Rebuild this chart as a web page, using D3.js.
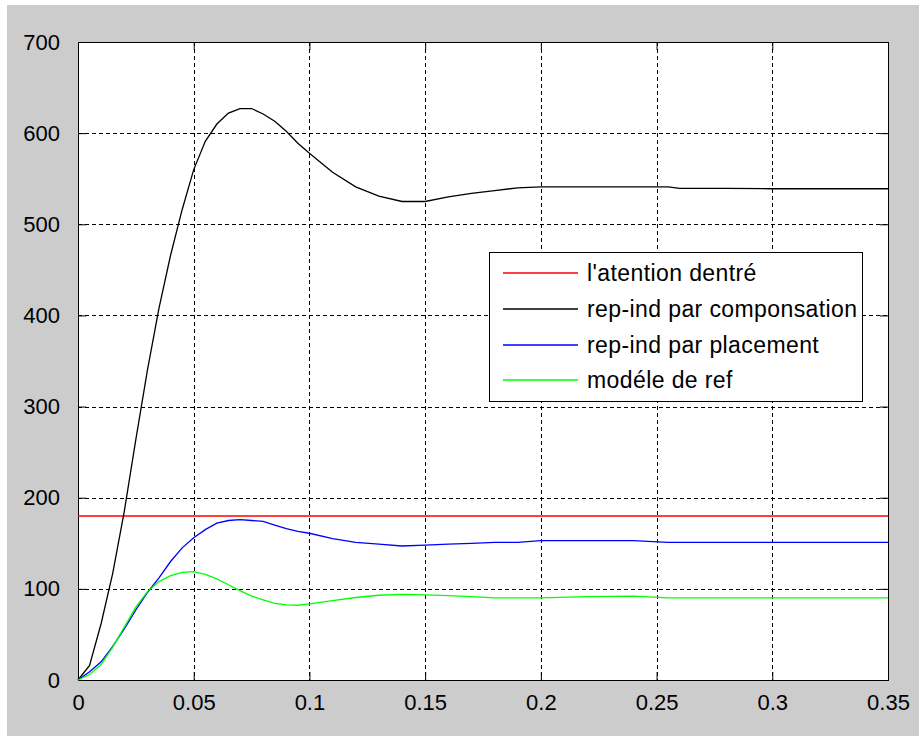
<!DOCTYPE html>
<html>
<head>
<meta charset="utf-8">
<script src="https://cdn.jsdelivr.net/npm/d3@7"></script>
<style>
  body { margin: 0; background: #ffffff; }
  text { font-family: "Liberation Sans", Arial, sans-serif; fill: #000; }
</style>
</head>
<body>
<script>
// sizes
const w = 919;
const h = 736;
const padL = 78, padR = 888, padT = 42, padB = 680;

// data
const time = [0, 0.005, 0.01, 0.015, 0.02, 0.025, 0.03, 0.035, 0.04, 0.045,
              0.05, 0.055, 0.06, 0.065, 0.07, 0.075, 0.08, 0.085, 0.09, 0.095,
              0.1, 0.11, 0.12, 0.13, 0.14, 0.15, 0.16, 0.17, 0.18, 0.19,
              0.2, 0.22, 0.24, 0.255, 0.26, 0.28, 0.3, 0.32, 0.35];
const consigne = [180, 180];
const consigneTime = [0, 0.35];
const compensation = [0, 16, 62, 117, 185, 264, 340, 408, 466, 516,
                      560, 591, 610, 622, 627, 627, 621, 613, 602, 589,
                      578, 557, 541, 531, 525, 525, 530, 534, 537, 540,
                      541, 541, 541, 541, 539.5, 539.5, 539, 539, 539];
const placement = [0, 9, 20, 37, 56, 77, 96, 112, 130, 145,
                   156, 165, 172, 175, 176, 175, 174, 170, 166, 163,
                   161, 155, 151, 149, 147, 148, 149, 150, 151, 151,
                   153, 153, 153, 151, 151, 151, 151, 151, 151];
const reference = [0, 6, 17, 36, 58, 80, 97, 108, 114.5, 118,
                   119, 116, 111, 104.5, 98, 92, 88, 84, 82.5, 82,
                   83.5, 87, 90.5, 93, 94, 93.5, 92.5, 91.5, 90, 90,
                   90, 91.5, 92, 90, 90, 90, 90, 90, 90];
const xTicks = [0, 0.05, 0.1, 0.15, 0.2, 0.25, 0.3, 0.35];
const yTicks = [0, 100, 200, 300, 400, 500, 600, 700];
const names = ["l'atention dentré", "rep-ind par componsation", "rep-ind par placement", "modéle de ref"];
const colors = ["#ff0000", "#000000", "#0000ff", "#00ff00"];

const svg = d3.select("body")
              .append("svg")
              .attr("width", w)
              .attr("height", h);

// grey figure background
svg.append("rect")
   .attr("x", 7).attr("y", 5)
   .attr("width", w - 7).attr("height", h - 5)
   .attr("fill", "#cccccc");

const xScale = d3.scaleLinear().domain([0, 0.35]).range([padL, padR]);
const yScale = d3.scaleLinear().domain([0, 700]).range([padB, padT]);

svg.append("rect")
   .attr("x", padL).attr("y", padT)
   .attr("width", padR - padL).attr("height", padB - padT)
   .attr("fill", "#fff");

// grid
svg.selectAll(".vgrid")
   .data(xTicks.slice(1))
   .enter().append("line")
   .attr("x1", d => Math.round(xScale(d)) + 0.5).attr("x2", d => Math.round(xScale(d)) + 0.5)
   .attr("y1", padT).attr("y2", padB)
   .attr("stroke", "#000").attr("stroke-dasharray", "4,3");
svg.selectAll(".hgrid")
   .data(yTicks.slice(1))
   .enter().append("line")
   .attr("y1", d => Math.round(yScale(d)) + 0.5).attr("y2", d => Math.round(yScale(d)) + 0.5)
   .attr("x1", padL).attr("x2", padR)
   .attr("stroke", "#000").attr("stroke-dasharray", "4,3");

// axes with inward ticks, all four sides
const xAxis = d3.axisBottom(xScale).tickValues(xTicks).tickSizeInner(-8).tickSizeOuter(0).tickFormat(d3.format("")).tickPadding(14);
const yAxis = d3.axisLeft(yScale).tickValues(yTicks).tickSizeInner(-8).tickSizeOuter(0).tickFormat(d3.format("")).tickPadding(18);

svg.append("g").attr("transform", "translate(0," + padB + ")").call(xAxis);
svg.append("g").attr("transform", "translate(" + padL + ",0)").call(yAxis);
svg.append("g").attr("transform", "translate(0," + padT + ")")
   .call(d3.axisTop(xScale).tickValues(xTicks).tickSizeInner(-8).tickSizeOuter(0).tickFormat(""));
svg.append("g").attr("transform", "translate(" + padR + ",0)")
   .call(d3.axisRight(yScale).tickValues(yTicks).tickSizeInner(-8).tickSizeOuter(0).tickFormat(""));

svg.selectAll(".domain").remove();
svg.selectAll(".tick line").attr("stroke", "#000");
svg.selectAll(".tick text").style("font-size", "22px").attr("fill", "#000");

svg.append("rect")
   .attr("x", padL + 0.5).attr("y", padT + 0.5)
   .attr("width", padR - padL).attr("height", padB - padT)
   .attr("fill", "none").attr("stroke", "#000");

// curves
const line = d3.line()
               .x(d => xScale(d[0]))
               .y(d => yScale(d[1]));

const series = [
  consigneTime.map((t, i) => [t, consigne[i]]),
  time.map((t, i) => [t, compensation[i]]),
  time.map((t, i) => [t, placement[i]]),
  time.map((t, i) => [t, reference[i]])
];
series.forEach(function(s, k){
  svg.append("path")
     .attr("d", line(s))
     .attr("fill", "none")
     .attr("stroke", colors[k])
     .attr("stroke-width", k == 0 ? 1.6 : 1.3);
});

// legend
const lg = svg.append("g");
lg.append("rect")
  .attr("x", 489.5).attr("y", 252.5)
  .attr("width", 373).attr("height", 149)
  .attr("fill", "#fff").attr("stroke", "#000");
const rowsY = [273, 309, 345, 380];
names.forEach(function(n, i){
  lg.append("line")
    .attr("x1", 503).attr("x2", 578)
    .attr("y1", rowsY[i]).attr("y2", rowsY[i])
    .attr("stroke", colors[i]).attr("stroke-width", 1.6);
  lg.append("text")
    .attr("x", 587).attr("y", rowsY[i] + 8)
    .style("font-size", "23px")
    .style("letter-spacing", "0.4px")
    .text(n);
});
</script>
</body>
</html>
